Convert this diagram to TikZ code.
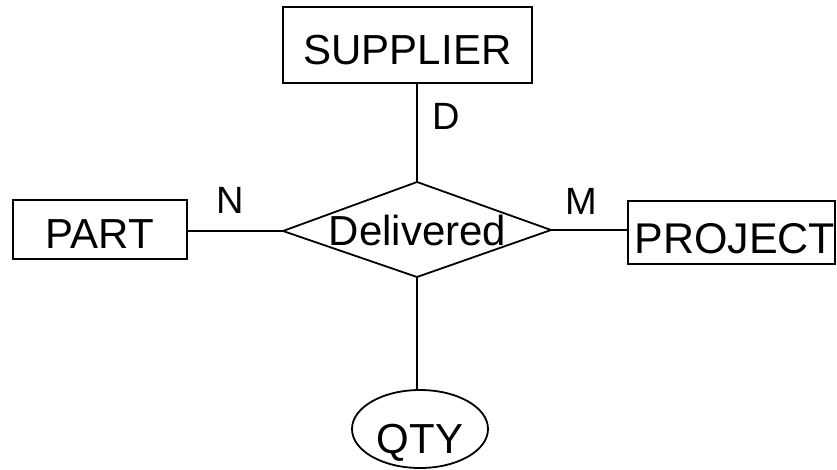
\documentclass[tikz,border=0pt]{standalone}
\usepackage{fontspec}
\setmainfont{Liberation Sans}
\usetikzlibrary{shapes.geometric}
\begin{document}
\begin{tikzpicture}[x=1pt,y=-1pt,
  ent/.style={draw,line width=1.8pt,inner sep=0pt,text depth=0pt,font=\fontsize{42}{48}\selectfont},
  lbl/.style={inner sep=0pt,font=\fontsize{38}{44}\selectfont},
  conn/.style={line width=1.8pt}]
\useasboundingbox (0,0) rectangle (837,469);
\node[ent,minimum width=249pt,minimum height=76pt,text height=39pt] (supplier) at (407.5,45) {SUPPLIER};
\node[ent,minimum width=174pt,minimum height=59pt,text height=37pt] (part) at (100,229.5) {PART};
\node[ent,minimum width=207pt,minimum height=63pt,text height=42pt,text width=207pt,align=right,font=\fontsize{43}{48}\selectfont] (project) at (731.5,232.5) {PROJECT\hspace*{2pt}};
\node[ent,ellipse,minimum width=136pt,minimum height=78pt,text height=48pt] (qty) at (420,429) {QTY};
\coordinate (dl) at (283,231);
\coordinate (dr) at (551,230);
\coordinate (dt) at (417,182);
\coordinate (db) at (417,277);
\draw[conn,line join=miter] (dl) -- (dt) -- (dr) -- (db) -- cycle;
\node[inner sep=0pt,font=\fontsize{42}{48}\selectfont] (rel) at (417.5,230.5) {Delivered};
\draw[conn] (dt |- supplier.south) -- (dt);
\draw[conn] (part.east |- dl) -- (dl);
\draw[conn] (dr) -- (project.west |- dr);
\draw[conn] (db) -- (db |- qty.north);
\node[lbl] (lD) at (446,116) {D};
\node[lbl] (lN) at (230,200) {N};
\node[lbl] (lM) at (581,201) {M};
\end{tikzpicture}
\end{document}
